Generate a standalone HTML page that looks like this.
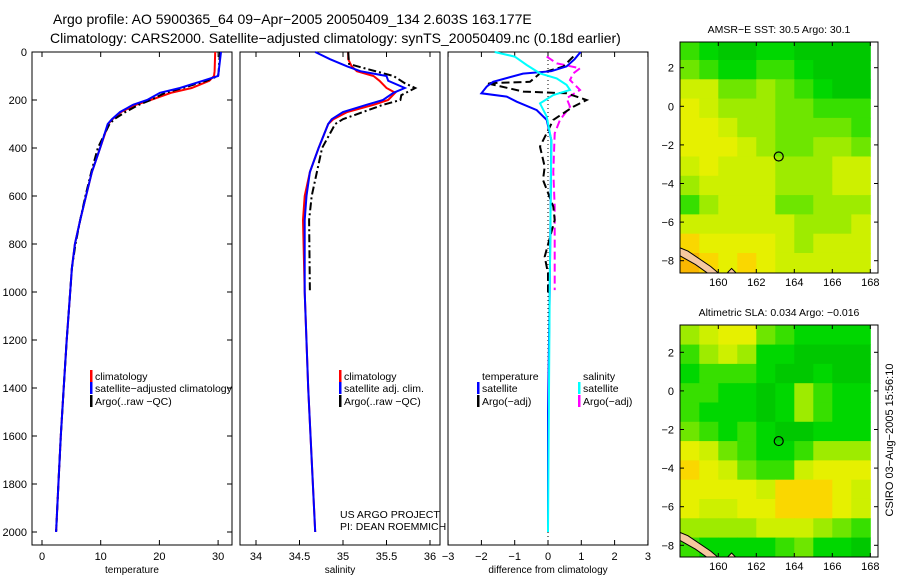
<!DOCTYPE html>
<html><head><meta charset="utf-8"><style>
body{margin:0;background:#fff;}
svg{display:block;font-family:"Liberation Sans",sans-serif;}
</style></head><body>
<svg id="chart" width="900" height="580" viewBox="0 0 900 580" xmlns="http://www.w3.org/2000/svg">
<text x="53" y="24" font-size="14">Argo profile: AO 5900365_64 09−Apr−2005 20050409_134 2.603S 163.177E</text>
<text x="50" y="43" font-size="14">Climatology: CARS2000. Satellite−adjusted climatology: synTS_20050409.nc (0.18d earlier)</text>
<text x="893" y="440" font-size="11" text-anchor="middle" transform="rotate(-90 893 440)">CSIRO 03−Aug−2005 15:56:10</text>
<g id="g"></g>
</svg>
<script>
// ---- data ----
const depthT = [0,80,100,120,150,170,200,220,250,280,300,400,500,600,700,800,900,1000,1200,1400,1600,1800,2000];
const tempClim = [29.5,29.4,29.3,28.5,25.5,22,18.5,16,13.5,12,11.3,9.9,8.5,7.5,6.5,5.6,5.1,4.8,4.2,3.7,3.2,2.8,2.4];
const tempSat = [30.5,30.1,30,27.4,23.5,20.1,17.9,15.5,13.3,11.9,11.2,9.9,8.5,7.5,6.5,5.6,5.1,4.8,4.2,3.7,3.2,2.8,2.4];
const tempArgo = [30.3,30.1,30,28,24,21,18.5,16.5,14.2,12.3,11.5,9.5,8.4,7.4,6.5,5.7,5.1,4.8,4.2,3.7,3.2,2.8,2.4];
const depthS = [0,30,60,80,100,120,150,170,200,220,250,280,300,400,500,600,700,1000,1400,2000];
const salClim = [35.06,35.06,35.1,35.16,35.35,35.42,35.5,35.6,35.52,35.35,35.05,34.89,34.83,34.72,34.62,34.56,34.54,34.56,34.6,34.68];
const salSat = [34.68,34.85,35.05,35.2,35.5,35.52,35.71,35.58,35.46,35.27,35.0,34.87,34.83,34.72,34.62,34.58,34.56,34.56,34.6,34.68];
const depthSA = [0,50,70,100,130,150,180,200,220,250,280,300,400,500,600,700,1000];
const salArgo = [35.06,35.07,35.27,35.58,35.71,35.83,35.67,35.66,35.46,35.23,35.0,34.91,34.76,34.7,34.64,34.61,34.62];
const depthDT = [0,30,60,80,90,124,144,172,186,207,242,283,367,600,1000,1500,2000];
const diffTSat = [0.98,0.8,0.56,0.1,-0.75,-1.65,-1.84,-2.0,-1.24,-0.94,-0.34,-0.04,0.1,0.08,0.05,0.0,0.0];
const depthDS = [0,19,54,89,110,137,158,179,214,269,367,1000,2000];
const diffSSat = [-1.6,-1.0,-0.64,-0.24,0.26,0.56,0.66,0.16,-0.24,-0.04,0.1,0.05,0.0];
const depthDTA = [19,61,89,124,130,165,172,200,228,283,394,478,533,644,700,853,922,1000];
const diffTArgo = [0.76,0.46,-0.24,-0.54,-1.84,-0.74,0.56,1.16,0.76,0.16,-0.24,-0.1,-0.15,0.16,0.2,-0.1,0,0];
const depthDSA = [19,47,68,89,117,158,193,228,283,339,500,644,783,992];
const diffSArgo = [-0.04,0.26,0.96,0.76,0.66,0.96,0.56,0.66,0.36,0.2,0.16,0.2,0.2,0.2];
const depthTicks = [0,200,400,600,800,1000,1200,1400,1600,1800,2000];
const tempTicks = [0,10,20,30];
const salTicks = [34,34.5,35,35.5,36];
const diffTicks = [-3,-2,-1,0,1,2,3];
const lonTicks = [160,162,164,166,168];
const latTicks = [2,0,-2,-4,-6,-8];
const sstGrid = [
[3,2,1,1,2,2,1,1,1,1],
[4,3,2,2,3,3,2,1,1,1],
[6,6,4,4,5,4,3,2,1,1],
[7,6,5,5,5,4,4,3,3,3],
[7,7,6,5,5,4,4,4,4,3],
[7,7,7,6,5,4,4,5,5,4],
[6,7,6,6,6,5,5,5,6,6],
[5,6,6,6,6,5,5,5,6,6],
[3,5,6,6,6,4,4,5,5,5],
[6,6,6,6,6,6,5,5,5,6],
[8,7,7,7,7,6,5,6,6,6],
[9,8,7,8,7,6,6,6,6,6]];
const slaGrid = [
[5,6,7,7,4,3,2,2,2,2],
[3,5,6,5,2,2,1,1,1,1],
[2,3,3,3,2,1,1,2,1,1],
[3,3,2,2,1,2,5,3,2,2],
[3,2,2,2,1,2,5,3,2,2],
[4,3,2,3,2,1,1,2,2,2],
[7,6,4,3,2,2,3,5,5,5],
[8,7,6,4,3,3,6,7,7,7],
[7,7,7,7,6,8,8,8,7,6],
[7,6,6,7,7,8,8,8,7,6],
[5,5,5,5,6,6,6,5,4,3],
[3,2,2,2,2,3,4,2,2,1]];
const floatLon = 163.18, floatLat = -2.6;

// ---- helpers ----
const NS = "http://www.w3.org/2000/svg";
const G = document.getElementById('g');
function el(tag, parent){ const e=document.createElementNS(NS,tag); (parent||G).appendChild(e); return e; }
function set(e,o){ for(const k in o) e.setAttribute(k,o[k]); return e; }
const yD = d => 52 + d*0.24;
const xT = v => 42 + v*5.87;
const xS = v => 256 + (v-34)*87;
const xDf = v => 548 + v*33.3;

function panel(x0,x1,name){
  const r = set(el('rect'),{x:x0,y:52,width:x1-x0,height:493,fill:'none',stroke:'#000','stroke-width':1});
  
  
}
function line(xs, ds, sx, color, dash, name, w){
  const p = el('polyline');
  set(p,{points: ds.map((d,i)=>sx(xs[i]).toFixed(1)+','+yD(d).toFixed(1)).join(' '), fill:'none', stroke:color, 'stroke-width': w||2, 'stroke-dasharray': dash||'none'});
  
  
}
function xAxis(ticks, sx, x0, x1, title, tname){
  ticks.forEach(t=>{
    const x=sx(t);
    set(el('line'),{x1:x,x2:x,y1:52,y2:57,stroke:'#000'});
    set(el('line'),{x1:x,x2:x,y1:540,y2:545,stroke:'#000'});
    const tx = el('text'); set(tx,{x:x,y:560,'font-size':11,'text-anchor':'middle'}); tx.textContent = t===0?'0':(t<0?'−'+(-t):String(t));
    
    
  });
  const at = el('text'); set(at,{x:(x0+x1)/2,y:573,'font-size':10,'text-anchor':'middle'}); at.textContent = title;
  
  
}
function legendRow(x, y, color, label, name){
  if(color){ set(el('rect'),{x:x-5,y:y-6,width:2.5,height:12,fill:color}); }
  const t = el('text'); set(t,{x:x,y:y+4,'font-size':10.5}); t.textContent = label;
  
  
}

// ---- panels ----
panel(32,232,'temperature-panel');
panel(240,440,'salinity-panel');
panel(448,648,'difference-panel');
depthTicks.forEach(d=>{
  const y=yD(d);
  set(el('line'),{x1:32,x2:37,y1:y,y2:y,stroke:'#000'});
  set(el('line'),{x1:227,x2:232,y1:y,y2:y,stroke:'#000'});
  const t = el('text'); set(t,{x:27,y:y+4,'font-size':11,'text-anchor':'end'}); t.textContent=d;
  
  
});
xAxis(tempTicks, xT, 32, 232, 'temperature', 'temperature-axis-title');
xAxis(salTicks, xS, 240, 440, 'salinity', 'salinity-axis-title');
xAxis(diffTicks, xDf, 448, 648, 'difference from climatology', 'difference-axis-title');

// temperature
line(tempClim, depthT, xT, '#f00', null, 'temp-climatology-line');
line(tempArgo, depthT, xT, '#000', '8,3,2,3', 'temp-argo-line');
line(tempSat, depthT, xT, '#00f', null, 'temp-satellite-line');
// salinity
line(salClim, depthS, xS, '#f00', null, 'sal-climatology-line');
line(salArgo, depthSA, xS, '#000', '8,3,2,3', 'sal-argo-line');
line(salSat, depthS, xS, '#00f', null, 'sal-satellite-line');
// difference
const zl = set(el('line'),{x1:548,x2:548,y1:52,y2:545,stroke:'#000','stroke-dasharray':'1,3'});


line(diffSArgo, depthDSA, xDf, '#f0f', '8,4', 'diff-sal-argo-line');
line(diffTArgo, depthDTA, xDf, '#000', '8,4', 'diff-temp-argo-line');
line(diffTSat, depthDT, xDf, '#00f', null, 'diff-temp-satellite-line');
line(diffSSat, depthDS, xDf, '#0ff', null, 'diff-sal-satellite-line');

// legends
legendRow(95,376,'#f00','climatology','legend-climatology');
legendRow(95,388,'#00f','satellite−adjusted climatology','legend-satellite');
legendRow(95,401,'#000','Argo(..raw −QC)','legend-argo');
legendRow(344,376,'#f00','climatology','legend2-climatology');
legendRow(344,388,'#00f','satellite adj. clim.','legend2-satellite');
legendRow(344,401,'#000','Argo(..raw −QC)','legend2-argo');
legendRow(482,376,null,'temperature','legend3-temperature');
legendRow(482,388,'#00f','satellite','legend3-temp-satellite');
legendRow(482,401,'#000','Argo(−adj)','legend3-temp-argo');
legendRow(583,376,null,'salinity','legend3-salinity');
legendRow(583,388,'#0ff','satellite','legend3-sal-satellite');
legendRow(583,401,'#f0f','Argo(−adj)','legend3-sal-argo');
const c1 = el('text'); set(c1,{x:340,y:518,'font-size':10.5}); c1.textContent='US ARGO PROJECT';


const c2 = el('text'); set(c2,{x:340,y:530,'font-size':10.5}); c2.textContent='PI: DEAN ROEMMICH';



// ---- maps ----
const stops = [[0,[0,185,0]],[2,[0,215,0]],[4,[110,230,0]],[6,[205,240,0]],[7,[230,240,0]],[8,[250,215,0]],[10,[250,150,0]]];
function cmap(v){
  for(let i=0;i<stops.length-1;i++){
    const [a,ca]=stops[i],[b,cb]=stops[i+1];
    if(v<=b){ const f=(v-a)/(b-a); return 'rgb('+ca.map((c,j)=>Math.round(c+(cb[j]-c)*f)).join(',')+')'; }
  }
  return 'rgb(250,150,0)';
}
function map(top, bottom, lat0y, grid, title, name){
  const xL = lon => 718.3 + (lon-160)*19.0;
  const yL = lat => lat0y - lat*19.3;
  const clipId = name+'-clip';
  const defs = el('defs'); const cp = el('clipPath',defs); set(cp,{id:clipId});
  set(el('rect',cp),{x:680,y:top,width:198,height:bottom-top});
  const g = el('g'); set(g,{'clip-path':'url(#'+clipId+')'});
  
  
  grid.forEach((row,r)=>row.forEach((v,c)=>{
    const lat = 3.4 - r, lon = 158 + c;
    const cell = el('rect',g);
    set(cell,{x:xL(lon),y:yL(lat),width:19.5,height:19.8,fill:cmap(v)});
    
    
  }));
  // coastline (Solomon Islands)
  const isl = el('polygon',g);
  set(isl,{points:[[157.9,-7.3],[158.4,-7.5],[159.6,-8.3],[160.2,-8.8],[159.8,-8.9],[158.8,-8.2],[157.9,-7.7]].map(p=>xL(p[0])+','+yL(p[1])).join(' '),fill:'#f6c8a0',stroke:'#000','stroke-width':1});
  
  
  const isl2 = el('polygon',g);
  set(isl2,{points:[[160.7,-8.4],[161.2,-8.9],[161.0,-9],[160.5,-8.6]].map(p=>xL(p[0])+','+yL(p[1])).join(' '),fill:'#f6c8a0',stroke:'#000','stroke-width':1});
  
  
  const fr = set(el('rect'),{x:680,y:top,width:198,height:bottom-top,fill:'none',stroke:'#000'});
  
  
  const mk = set(el('circle'),{cx:xL(floatLon),cy:yL(floatLat),r:4.5,fill:'none',stroke:'#000','stroke-width':1.2});
  
  
  lonTicks.forEach(l=>{
    const x=xL(l);
    set(el('line'),{x1:x,x2:x,y1:top,y2:top+4,stroke:'#000'});
    set(el('line'),{x1:x,x2:x,y1:bottom-4,y2:bottom,stroke:'#000'});
    const t = el('text'); set(t,{x:x,y:bottom+13,'font-size':11,'text-anchor':'middle'}); t.textContent=l;
    
    
  });
  latTicks.forEach(l=>{
    const y=yL(l);
    set(el('line'),{x1:680,x2:684,y1:y,y2:y,stroke:'#000'});
    set(el('line'),{x1:874,x2:878,y1:y,y2:y,stroke:'#000'});
    const t = el('text'); set(t,{x:674,y:y+4,'font-size':11,'text-anchor':'end'}); t.textContent=l<0?'−'+(-l):String(l);
    
    
  });
  const tt = el('text'); set(tt,{x:779,y:top-9,'font-size':10.5,'text-anchor':'middle'}); tt.textContent=title;
  
  
}
map(42, 273, 106.3, sstGrid, 'AMSR−E SST: 30.5 Argo: 30.1', 'sst-map');
map(325, 557, 390.9, slaGrid, 'Altimetric SLA: 0.034 Argo: −0.016', 'sla-map');
</script>
</body></html>
